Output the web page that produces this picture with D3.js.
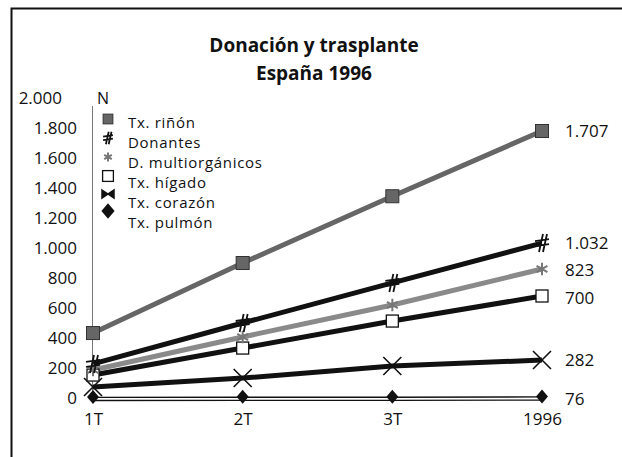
<!DOCTYPE html>
<html>
<head>
<meta charset="utf-8">
<script src="https://cdn.jsdelivr.net/npm/d3@7"></script>
<style>
	body { margin: 0; background: #fff; }
	text { font-family: "Open Sans", sans-serif; fill: #111; }
</style>
</head>
<body>
<div id="grafico"></div>
<script>
/*
 * Datos
 */
var periodos = ["1T", "2T", "3T", "1996"];
var series = ["Tx. riñón", "Donantes", "D. multiorgánicos", "Tx. hígado", "Tx. corazón", "Tx. pulmón"];
var txRinon = [433, 900, 1345, 1780];
var donantes = [227, 500, 767, 1033];
var multiorganicos = [187, 407, 620, 860];
var txHigado = [153, 333, 513, 680];
var txCorazon = [73, 133, 213, 253];
var txPulmon = [7, 8, 8, 10];
var etiquetasFinales = ["1.707", "1.032", "823", "700", "282", "76"];
var ticksY = [0, 200, 400, 600, 800, 1000, 1200, 1400, 1600, 1800, 2000];

var valores = [txRinon, donantes, multiorganicos, txHigado, txCorazon, txPulmon];

var svgWidth = 622;
var svgHeight = 457;

var svg = d3.select("#grafico")
  .append("svg")
  .attr("width", svgWidth)
  .attr("height", svgHeight);

// Marco
svg.append("path")
  .attr("d", "M11.5,457 L11.5,8.5 L622,8.5")
  .attr("fill", "none")
  .attr("stroke", "#111")
  .attr("stroke-width", 2);

// Titulo
svg.append("text")
  .attr("x", 314).attr("y", 52)
  .attr("text-anchor", "middle")
  .style("font-size", "19px").style("font-weight", "bold")
  .text("Donación y trasplante");
svg.append("text")
  .attr("x", 314).attr("y", 80)
  .attr("text-anchor", "middle")
  .style("font-size", "19px").style("font-weight", "bold")
  .text("España 1996");

// Escalas
var x = d3.scalePoint().domain(periodos).range([93, 542]);
var y = d3.scaleLinear().domain([0, 2000]).range([398, 98]);

// Eje Y (solo linea fina y etiquetas)
svg.append("line")
  .attr("x1", 92.5).attr("x2", 92.5)
  .attr("y1", 106).attr("y2", y(0) + 2)
  .attr("stroke", "#777").attr("stroke-width", 1);

var ejeY = d3.axisLeft(y).tickValues(ticksY).tickSize(0).tickPadding(0)
  .tickFormat(function(d) { return d3.format(",")(d).replace(",", "."); });
var gY = svg.append("g").attr("transform", "translate(77,0)").call(ejeY);
gY.select(".domain").remove();
gY.selectAll("text")
  .style("font-size", "17px").style("font-family", "'Open Sans', sans-serif").attr("fill", "#111")
  .attr("dx", function(d) { return d == 2000 ? -15 : 0; });

svg.append("text").attr("x", 97).attr("y", 104).style("font-size", "16px").text("N");

// Eje X
var ejeX = d3.axisBottom(x).tickSize(0).tickPadding(0);
var gX = svg.append("g").attr("transform", "translate(0,413)").call(ejeX);
gX.select(".domain").remove();
gX.selectAll("text")
  .style("font-size", "17px").style("font-family", "'Open Sans', sans-serif").attr("fill", "#111");

var linea = d3.line()
  .x(function(d, i) { return x(periodos[i]); })
  .y(function(d) { return y(d); });

// Estilos de cada serie
var colores = ["#666", "#111", "#8a8a8a", "#111", "#111", "#111"];

// Lineas (pulmon primero, queda abajo)
for (var i = valores.length - 1; i >= 0; i--) {
	if (i == 5) {
		svg.append("path").attr("d", linea(valores[i]))
		  .attr("transform", "translate(0,2)")
		  .attr("fill", "none").attr("stroke", "#111").attr("stroke-width", 4.5);
		svg.append("path").attr("d", linea(valores[i]))
		  .attr("transform", "translate(0,2)")
		  .attr("fill", "none").attr("stroke", "#fff").attr("stroke-width", 1.8);
	} else {
		svg.append("path").attr("d", linea(valores[i]))
		  .attr("fill", "none").attr("stroke", colores[i]).attr("stroke-width", 5);
	}
}

// Marcadores
function dibujarMarcador(g, tipo, cx, cy, escala) {
	var s = escala || 1;
	switch (tipo) {
		case 0:
			g.append("rect").attr("x", cx - 6.5*s).attr("y", cy - 6.5*s)
			  .attr("width", 13*s).attr("height", 13*s)
			  .attr("fill", "#666").attr("stroke", "#333").attr("stroke-width", 1);
			break;
		case 1:
			g.append("path")
			  .attr("d", "M" + (cx-3*s) + "," + (cy+9*s) + "L" + (cx+1*s) + "," + (cy-9*s) +
			             "M" + (cx+1*s) + "," + (cy+9*s) + "L" + (cx+5*s) + "," + (cy-9*s) +
			             "M" + (cx-7*s) + "," + (cy-2*s) + "L" + (cx+7*s) + "," + (cy-4*s) +
			             "M" + (cx-7*s) + "," + (cy+3*s) + "L" + (cx+7*s) + "," + (cy+1*s))
			  .attr("stroke", "#111").attr("stroke-width", 1.8).attr("fill", "none");
			break;
		case 2:
			g.append("path").attr("d", d3.symbol().type(d3.symbolAsterisk).size(110*s*s)())
			  .attr("transform", "translate(" + cx + "," + cy + ")")
			  .attr("stroke", "#777").attr("stroke-width", 2).attr("fill", "none");
			break;
		case 3:
			g.append("rect").attr("x", cx - 6*s).attr("y", cy - 6*s)
			  .attr("width", 12*s).attr("height", 12*s)
			  .attr("fill", "#fff").attr("stroke", "#111").attr("stroke-width", 1.3);
			break;
		case 4:
			g.append("path")
			  .attr("d", "M" + (cx-9*s) + "," + (cy-9*s) + "L" + (cx+9*s) + "," + (cy+9*s) +
			             "M" + (cx-9*s) + "," + (cy+9*s) + "L" + (cx+9*s) + "," + (cy-9*s))
			  .attr("stroke", "#111").attr("stroke-width", 1.6);
			break;
		case 5:
			g.append("path")
			  .attr("d", "M" + cx + "," + (cy-7*s) + "L" + (cx+6*s) + "," + cy +
			             "L" + cx + "," + (cy+7*s) + "L" + (cx-6*s) + "," + cy + "Z")
			  .attr("fill", "#111");
			break;
	}
}

var gMarcas = svg.append("g");
for (var i = valores.length - 1; i >= 0; i--) {
	for (var j = 0; j < periodos.length; j++) {
		dibujarMarcador(gMarcas, i, x(periodos[j]), y(valores[i][j]));
	}
}

// Etiquetas finales
var desplazamiento = [6, 6, 7, 8, 6, 8];
for (var i = 0; i < valores.length; i++) {
	svg.append("text")
	  .attr("x", 565)
	  .attr("y", y(valores[i][3]) + desplazamiento[i])
	  .style("font-size", "17px")
	  .text(etiquetasFinales[i]);
}

// Leyenda
var gLeyenda = svg.append("g");
var marcaLeyendaY = [119, 138, 157, 176, 194, 211];
var escalaLeyenda = [0.75, 0.7, 0.7, 0.9, 1, 1.1];
for (var i = 0; i < series.length; i++) {
	gLeyenda.append("text")
	  .attr("x", 128).attr("y", 128 + i*20)
	  .style("font-size", "15px")
	  .style("letter-spacing", "0.7px")
	  .text(series[i]);
	if (i == 4) {
		// corazon: pajarita en la leyenda
		gLeyenda.append("path")
		  .attr("d", "M102,190 L114,198 L114,190 L102,198 Z")
		  .attr("fill", "#111").attr("stroke", "#111").attr("stroke-width", 1.5);
	} else {
		dibujarMarcador(gLeyenda, i, 108, marcaLeyendaY[i], escalaLeyenda[i]);
	}
}
</script>
</body>
</html>
